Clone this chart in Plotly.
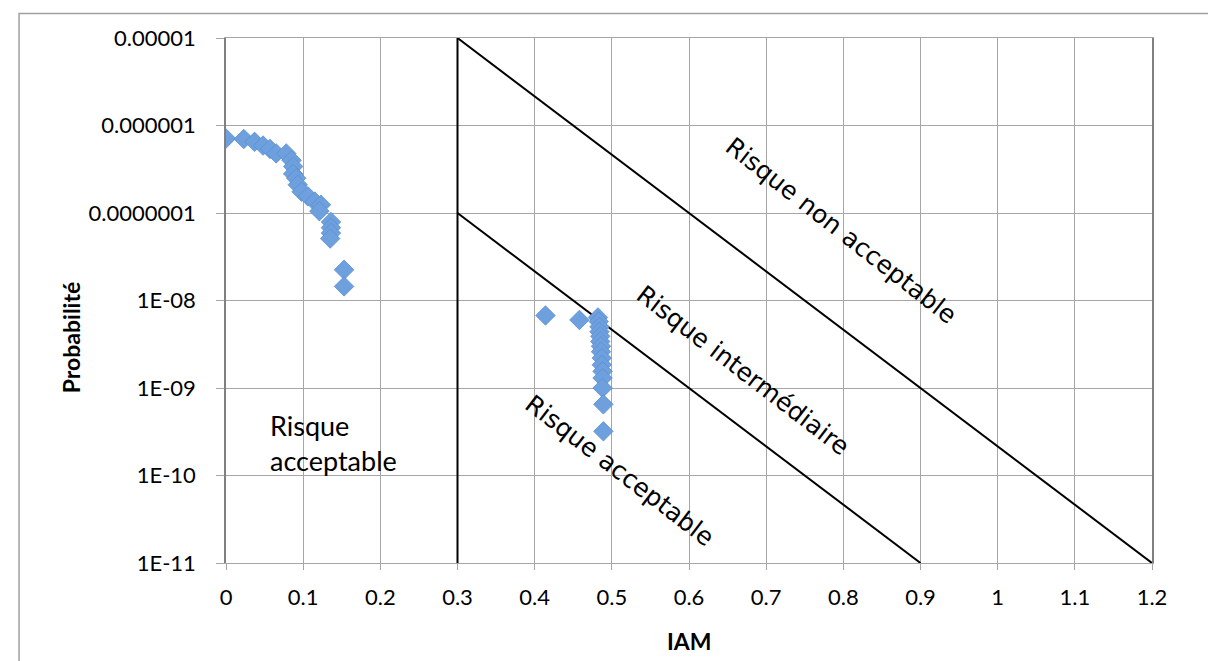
import plotly.graph_objects as go

# Scatter data (IAM vs probability)
iam_a = [0.0, 0.023, 0.037, 0.048, 0.057, 0.065, 0.078, 0.085, 0.087, 0.087, 0.091, 0.093,
         0.098, 0.106, 0.115, 0.123, 0.121, 0.136, 0.136, 0.136, 0.135, 0.153, 0.153]
prob_a = [7.1e-7, 7.0e-7, 6.5e-7, 5.9e-7, 5.4e-7, 4.8e-7, 4.8e-7, 4.0e-7, 3.4e-7, 2.8e-7,
          2.5e-7, 2.1e-7, 1.75e-7, 1.55e-7, 1.35e-7, 1.24e-7, 1.05e-7, 7.9e-8, 6.8e-8,
          5.9e-8, 5.1e-8, 2.24e-8, 1.45e-8]
iam_b = [0.414, 0.458, 0.482, 0.483, 0.484, 0.484, 0.485, 0.485, 0.486, 0.486, 0.487,
         0.487, 0.488, 0.488, 0.488, 0.489, 0.489]
prob_b = [6.75e-9, 6.0e-9, 6.4e-9, 5.75e-9, 5.0e-9, 4.4e-9, 3.9e-9, 3.4e-9, 3.0e-9,
          2.6e-9, 2.2e-9, 1.84e-9, 1.55e-9, 1.3e-9, 1.0e-9, 6.5e-10, 3.2e-10]

# Risk boundary lines
vert_x = [0.3, 0.3]
vert_y = [1e-11, 1e-5]
upper_x = [0.3, 1.2]
upper_y = [1e-5, 1e-11]
lower_x = [0.3, 0.9]
lower_y = [1e-7, 1e-11]

x_ticks = [0, 0.1, 0.2, 0.3, 0.4, 0.5, 0.6, 0.7, 0.8, 0.9, 1.0, 1.1, 1.2]
x_ticktext = ["0", "0.1", "0.2", "0.3", "0.4", "0.5", "0.6", "0.7", "0.8", "0.9", "1", "1.1", "1.2"]
y_ticks = [1e-5, 1e-6, 1e-7, 1e-8, 1e-9, 1e-10, 1e-11]
y_ticktext = ["0.00001", "0.000001", "0.0000001", "1E-08", "1E-09", "1E-10", "1E-11"]

FONT = "Lato, Open Sans, sans-serif"
ROT_FONT = "DejaVu Sans, sans-serif"
LINE = "black"
MARK = "#6FA0DE"

fig = go.Figure()
for xs, ys in [(vert_x, vert_y), (upper_x, upper_y), (lower_x, lower_y)]:
    fig.add_trace(go.Scatter(x=xs, y=ys, mode="lines",
                             line=dict(color=LINE, width=2), showlegend=False,
                             hoverinfo="skip"))
for xs, ys in [(iam_a, prob_a), (iam_b, prob_b)]:
    fig.add_trace(go.Scatter(x=xs, y=ys, mode="markers", showlegend=False,
                             marker=dict(symbol="diamond", size=15, color=MARK,
                                         line=dict(color="#5A8ED3", width=0.8))))

grid = "#A6A6A6"
fig.update_xaxes(range=[0, 1.2], tickvals=x_ticks, ticktext=x_ticktext,
                 showgrid=True, gridcolor=grid, gridwidth=1.3,
                 showline=True, linecolor=grid, linewidth=1.3, mirror=True,
                 ticks="outside", ticklen=6, tickcolor=grid, zeroline=False,
                 ticklabelstandoff=8,
                 tickfont=dict(family=FONT, size=22, color="black"))
fig.update_yaxes(type="log", range=[-11, -5], tickvals=y_ticks, ticktext=y_ticktext,
                 showgrid=True, gridcolor=grid, gridwidth=1.3,
                 showline=True, linecolor="#808080", linewidth=1.5, mirror=True,
                 ticks="outside", ticklen=8, tickcolor=grid, zeroline=False,
                 ticklabelstandoff=16,
                 tickfont=dict(family=FONT, size=22, color="black"))

# axis titles
fig.add_annotation(xref="paper", yref="paper", x=0.5, y=-0.1484, text="<b>IAM</b>",
                   xanchor="center", yanchor="middle", showarrow=False,
                   font=dict(family=FONT, size=23, color="black"))
fig.add_annotation(xref="paper", yref="paper", x=-0.1674, y=0.43, text="<b>Probabilité</b>",
                   xanchor="center", yanchor="middle", textangle=-90, showarrow=False,
                   font=dict(family=FONT, size=23, color="black"))

rot_font = dict(family=ROT_FONT, size=25, color="black")
fig.add_annotation(x=0.797, y=-7.2, text="Risque non acceptable", textangle=38,
                   showarrow=False, font=rot_font)
fig.add_annotation(x=0.67, y=-8.80, text="Risque intermédiaire", textangle=37.5,
                   showarrow=False, font=rot_font)
fig.add_annotation(x=0.51, y=-9.94, text="Risque acceptable", textangle=37.5,
                   showarrow=False, font=rot_font)
fig.add_annotation(x=0.055, y=-9.63, text="Risque<br>acceptable", xanchor="left",
                   align="left", showarrow=False,
                   font=dict(family=FONT, size=27, color="black"))

# outer chart border
fig.add_shape(type="rect", xref="paper", yref="paper", x0=-0.2235, x1=1.09,
              y0=-0.3, y1=1.0466, line=dict(color="#A0A0A0", width=1.5))

fig.update_layout(width=1216, height=661, margin=dict(l=218, r=72, t=30, b=106),
                  plot_bgcolor="white", paper_bgcolor="white",
                  font=dict(family=FONT))
fig.write_html("out.html")
